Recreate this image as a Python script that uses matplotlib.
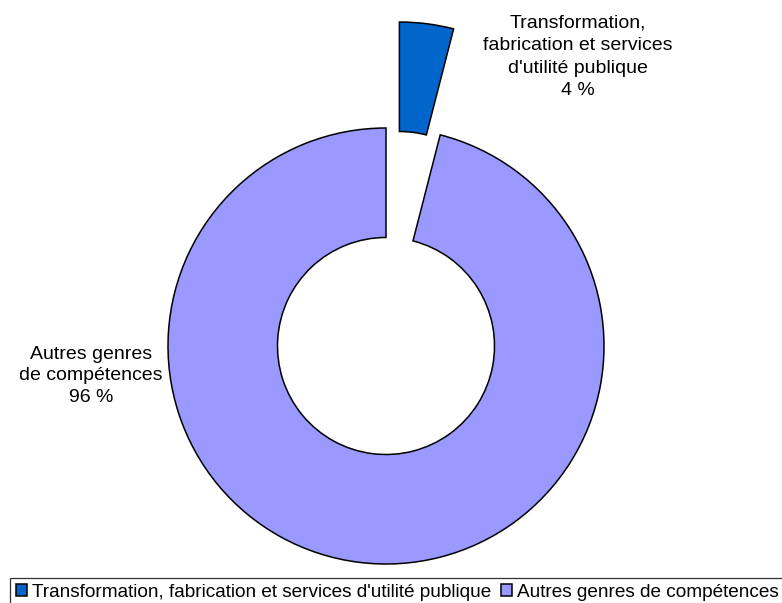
import matplotlib
matplotlib.use("Agg")
import matplotlib.pyplot as plt

categories = ["Transformation, fabrication et services d'utilité publique",
              "Autres genres de compétences"]
label_lines = ["Transformation,\nfabrication et services\nd'utilité publique",
               "Autres genres\nde compétences"]
shares = [4, 96]
colors = ["#0066CC", "#9999FF"]
explode = [0.49, 0.0]   # fraction of radius

plt.rcParams["font.family"] = ["Liberation Sans", "DejaVu Sans"]

W, H = 782, 603
fig = plt.figure(figsize=(W / 100, H / 100), dpi=100)
ax = fig.add_axes([0, 0, 1, 1])

# pixel-like coordinates: y measured from the bottom
cx, cy, r = 386, H - 346, 218
wedges, _ = ax.pie(shares, colors=colors, explode=[e * r for e in explode],
                   startangle=90, counterclock=False, center=(cx, cy), radius=r,
                   wedgeprops=dict(width=109.5, edgecolor="black", linewidth=1.1))
ax.set_xlim(0, W); ax.set_ylim(0, H)
ax.set_aspect("equal"); ax.axis("off")

fs = 14
ax.text(578, H - 57, f"{label_lines[0]}\n{shares[0]} %", ha="center", va="center",
        fontsize=fs, linespacing=1.42)
ax.text(91, H - 376, f"{label_lines[1]}\n{shares[1]} %", ha="center", va="center",
        fontsize=fs, linespacing=1.38)

# legend runs past the right edge, as in the original
leg = fig.legend(wedges, categories, loc="upper left",
                 bbox_to_anchor=(10 / W, 1 - 578 / H), ncol=2, fontsize=13.7,
                 frameon=True, fancybox=False, edgecolor="black",
                 handlelength=0.6, handleheight=0.6, handletextpad=0.25,
                 columnspacing=0.5, borderpad=0.3, borderaxespad=0)
leg.get_frame().set_linewidth(0.9)

fig.savefig("out.png", dpi=100)
